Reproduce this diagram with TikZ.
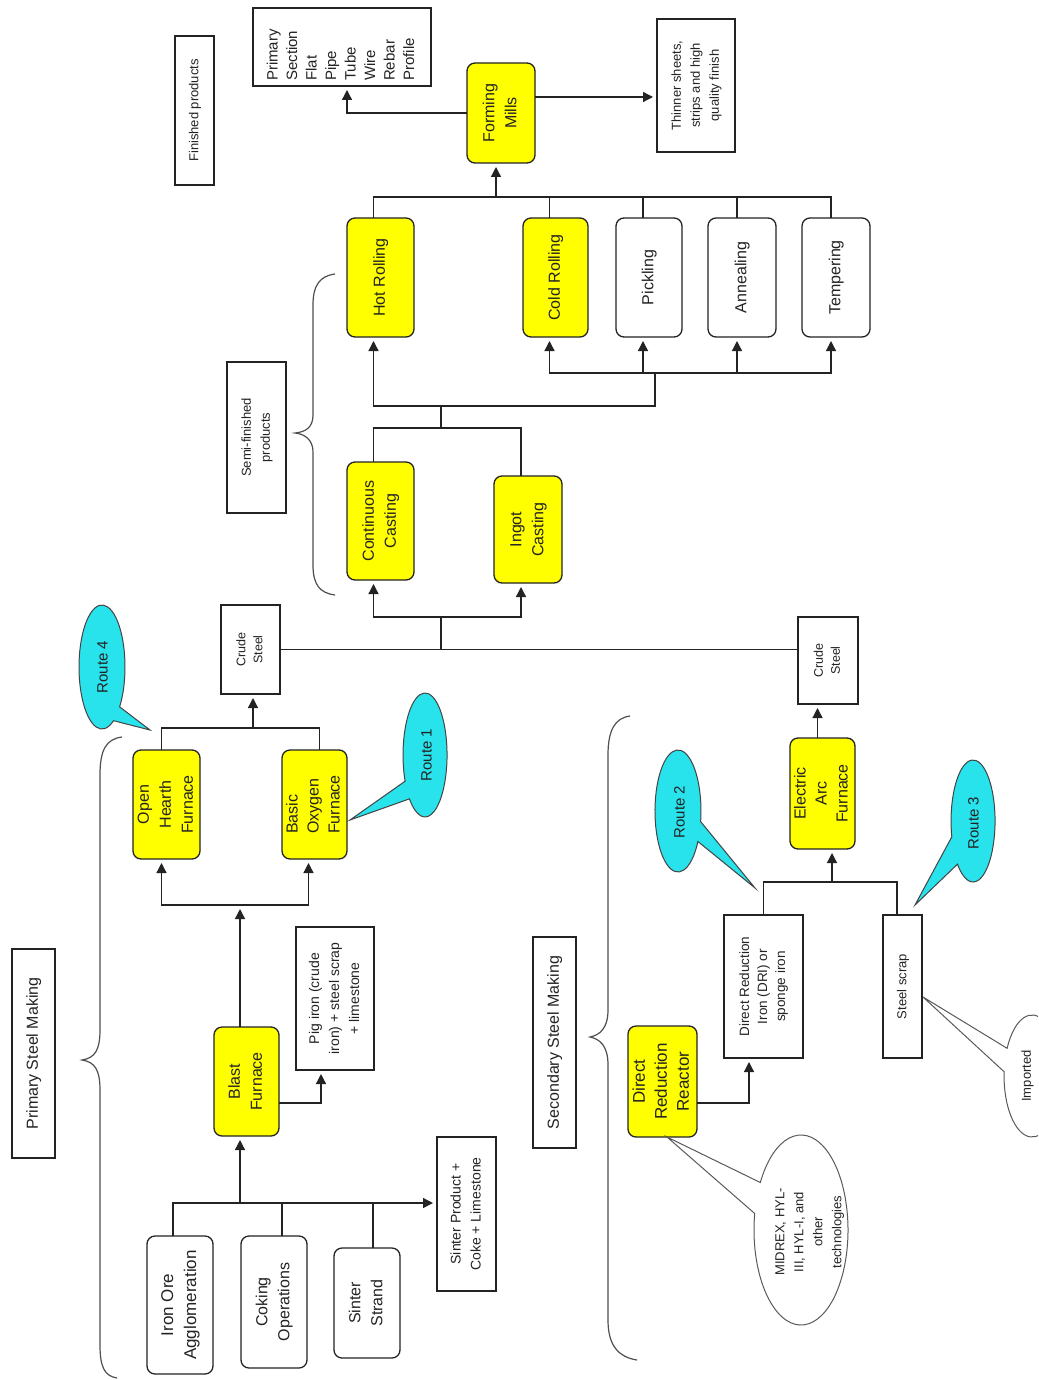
\documentclass[tikz,border=0pt]{standalone}
\usepackage{fontspec}
\setmainfont{Liberation Sans}
\usetikzlibrary{arrows.meta,calc}
% rotated (bottom-to-top) multi-line text
\newcommand{\rtx}[2][c]{\rotatebox{90}{\begin{tabular}{@{}#1@{}}#2\end{tabular}}}
\definecolor{boxyellow}{RGB}{255,255,0}
\definecolor{routecyan}{RGB}{40,226,236}
\definecolor{inkgray}{RGB}{35,35,35}

\begin{document}
\begin{tikzpicture}[x=1pt,y=-1pt,
  corners/.style n args={4}{at={({(#1+#3)/2},{(#2+#4)/2})},
    minimum width={(#3-#1)*1pt}, minimum height={(#4-#2)*1pt}},
  base/.style={draw=inkgray, line width=1.3pt, inner sep=0pt, outer sep=0pt,
    text=inkgray, font=\fontsize{16}{22}\selectfont},
  tbox/.style={base, fill=white},
  ybox/.style={base, fill=boxyellow, rounded corners=8pt},
  wbox/.style={base, fill=white, rounded corners=8pt},
  lbl/.style={inner sep=0pt, text=inkgray},
  ln/.style={draw=inkgray, line width=1.3pt},
  arr/.style={ln, -{Triangle[length=10pt,width=10pt]}, shorten >=4pt},
  callout/.style={fill=routecyan, draw=inkgray!85, line width=1pt},
  bubble/.style={fill=white, draw=inkgray!75, line width=1pt},
  bracestyle/.style={draw=inkgray!80, line width=1.2pt},
  fa/.style={font=\fontsize{13}{19}\selectfont},
  fb/.style={font=\fontsize{14}{20}\selectfont},
  fc/.style={font=\fontsize{12.5}{17}\selectfont},
  fr/.style={font=\fontsize{15}{18}\selectfont}
]
\fill[white] (0,0) rectangle (1038,1380);
\useasboundingbox (0,0) rectangle (1038,1380);
\clip (0,0) rectangle (1038,1380);

% ---------- braces ----------
\draw[bracestyle] (122,737) .. controls (106,739) and (100,750) .. (100,775)
  -- (100,1030) .. controls (100,1050) and (95,1058) .. (82,1060)
  .. controls (95,1062) and (100,1070) .. (100,1090)
  -- (100,1345) .. controls (100,1368) and (105,1376) .. (117,1378);
\draw[bracestyle] (335,274) .. controls (320,276) and (313,285) .. (313,305)
  -- (313,415) .. controls (313,428) and (305,432) .. (295,433)
  .. controls (305,434) and (313,440) .. (313,452)
  -- (313,565) .. controls (313,585) and (320,593) .. (335,595);
\draw[bracestyle] (630,716) .. controls (615,718) and (608,730) .. (608,755)
  -- (608,1010) .. controls (608,1028) and (600,1035) .. (590,1037)
  .. controls (600,1039) and (608,1046) .. (608,1065)
  -- (608,1320) .. controls (608,1345) and (618,1357) .. (637,1360);

% ---------- section labels ----------
\node[tbox, fa, corners={175}{36}{214}{185}] (finished) {\rtx{Finished products}};
\node[tbox, fa, corners={227}{362}{286}{513}] (semi) {\rtx{Semi-finished\\products}};
\node[tbox, corners={12}{949}{55}{1158}] (primary) {\rtx{Primary Steel Making}};
\node[tbox, corners={533}{937}{576}{1148}] (secondary) {\rtx{Secondary Steel Making}};

% ---------- finishing ----------
\node[tbox, corners={253}{8}{431}{86}, font=\fontsize{15}{19.5}\selectfont] (prod)
  {\rotatebox{90}{\begin{tabular}{@{}l@{\hspace{16pt}}}Primary\\Section\\Flat\\Pipe\\Tube\\Wire\\Rebar\\Profile\end{tabular}}};
\node[tbox, fa, corners={657}{19}{735}{152}] (thin) {\rtx{Thinner sheets,\\strips and high\\quality finish}};
\node[ybox, corners={467}{63}{535}{163}] (forming) {\rtx{Forming\\Mills}};

\node[ybox, corners={347}{218}{414}{337}] (hot) {\rtx{Hot Rolling}};
\node[ybox, corners={523}{218}{588}{337}] (cold) {\rtx{Cold Rolling}};
\node[wbox, corners={616}{218}{682}{337}] (pick) {\rtx{Pickling}};
\node[wbox, corners={708}{218}{776}{337}] (anneal) {\rtx{Annealing}};
\node[wbox, corners={802}{218}{870}{337}] (temper) {\rtx{Tempering}};

\node[ybox, corners={347}{462}{414}{580}] (cc) {\rtx{Continuous\\Casting}};
\node[ybox, corners={494}{476}{562}{583}] (ingot) {\rtx{Ingot\\Casting}};

\node[tbox, fc, corners={221}{605}{280}{694}] (crudeA) {\rtx{Crude\\Steel}};
\node[tbox, fc, corners={798}{617}{858}{704}] (crudeB) {\rtx{Crude\\Steel}};

% ---------- primary route ----------
\node[ybox, corners={133}{750}{200}{859}] (ohf) {\rtx{Open\\Hearth\\Furnace}};
\node[ybox, font=\fontsize{16}{21}\selectfont, corners={282}{750}{347}{859}] (bof) {\rtx[l]{Basic\\Oxygen\\Furnace}};
\node[ybox, corners={214}{1027}{279}{1136}] (blast) {\rtx{Blast\\Furnace}};
\node[tbox, fb, corners={296}{927}{374}{1070}] (pig) {\rtx{Pig iron (crude\\iron) + steel scrap\\+ limestone}};
\node[tbox, fb, corners={437}{1137}{496}{1291}] (sinterprod) {\rtx{Sinter Product +\\Coke + Limestone}};
\node[wbox, font=\fontsize{17}{23}\selectfont, corners={147}{1236}{213}{1374}] (ironore) {\rtx{Iron Ore\\Agglomeration}};
\node[wbox, corners={241}{1236}{307}{1368}] (coking) {\rtx{Coking\\Operations}};
\node[wbox, corners={334}{1248}{400}{1358}] (strand) {\rtx{Sinter\\Strand}};

% ---------- secondary route ----------
\node[ybox, font=\fontsize{16}{21}\selectfont, corners={790}{738}{855}{849}] (eaf) {\rtx{Electric\\Arc\\Furnace}};
\node[ybox, font=\fontsize{17}{22}\selectfont, corners={628}{1026}{697}{1137}] (drr) {\rtx{Direct\\Reduction\\Reactor}};
\node[tbox, font=\fontsize{13.5}{18}\selectfont, corners={724}{915}{803}{1058}] (dri) {\rtx{Direct Reduction\\Iron (DRI) or\\sponge iron}};
\node[tbox, fa, corners={883}{915}{922}{1058}] (scrap) {\rtx{Steel scrap}};

% ---------- connectors: finishing ----------
\draw[arr] (forming.west) -| ([xshift=5pt]prod.south);
\draw[arr] ([yshift=16pt]forming.east) -- ([yshift=16pt]forming.east -| thin.west);
\draw[ln] ([xshift=-7pt]hot.north) -- ++(0,-21) -| ([xshift=-5pt]temper.north);
\draw[ln] ([xshift=-6pt]cold.north) -- ++(0,-21);
\draw[ln] ([xshift=-6pt]pick.north) -- ++(0,-21);
\draw[ln] ([xshift=-5pt]anneal.north) -- ++(0,-21);
\coordinate (tb) at (496,197);
\draw[arr] (tb) -- (tb |- forming.south);

\coordinate (j1) at (441,406);
\coordinate (j2) at (655,406);
\coordinate (j3) at (655,373);
\coordinate (j4) at (441,428);
\draw[arr] (j1) -| ([xshift=-7pt]hot.south);
\draw[ln] (j1) -- (j2) -- (j3);
\draw[arr] (j3) -| ([xshift=-6pt]cold.south);
\draw[arr] (j3) -| ([xshift=-6pt]pick.south);
\draw[arr] (j3) -| ([xshift=-5pt]anneal.south);
\draw[arr] (j3) -| ([xshift=-5pt]temper.south);
\draw[ln] (j1) -- (j4);
\draw[ln] (j4) -| ([xshift=-7pt]cc.north);
\draw[ln] (j4) -| ([xshift=-7pt]ingot.north);

% ---------- connectors: crude steel ----------
\draw[ln] (crudeA.east) -- (crudeA.east -| crudeB.west);
\coordinate (j5) at (441,650);
\coordinate (j6) at (441,617);
\draw[ln] (j5) -- (j6);
\draw[arr] (j6) -| ([xshift=-7pt]cc.south);
\draw[arr] (j6) -| ([xshift=-7pt]ingot.south);

% ---------- connectors: primary ----------
\coordinate (j7) at (253,728);
\draw[ln] ([xshift=-5pt]ohf.north) |- (j7);
\draw[ln] ([xshift=5pt]bof.north) |- (j7);
\draw[arr] (j7) -- (j7 |- crudeA.south);
\coordinate (j8) at (240,905);
\draw[arr] (j8) -| ([xshift=-5pt]ohf.south);
\draw[arr] (j8) -| ([xshift=-6pt]bof.south);
\draw[arr] ([xshift=-6.5pt]blast.north) -- (j8);
\draw[arr] ([yshift=-21.5pt]blast.east) -| ([xshift=-14pt]pig.south);
\coordinate (j9) at (240,1203);
\draw[arr] (j9) -- ([xshift=-6.5pt]blast.south);
\draw[arr] ([xshift=-7pt]ironore.north) |- (sinterprod.west |- j9);
\draw[ln] ([xshift=8pt]coking.north) -- ++(0,-33);
\draw[ln] ([xshift=6pt]strand.north) -- ++(0,-45);

% ---------- connectors: secondary ----------
\draw[arr] ([yshift=-21.5pt]drr.east) -| ([xshift=-14.5pt]dri.south);
\coordinate (j10) at (832,882);
\draw[ln] (dri.north) |- (j10);
\draw[ln] ([xshift=-5.5pt]scrap.north) |- (j10);
\draw[arr] (j10) -- (j10 |- eaf.south);
\draw[arr] ([xshift=-5pt]eaf.north) -- ([xshift=-5pt]eaf.north |- crudeB.south);

% ---------- route callouts ----------
\draw[callout] (113.5,720.7) arc[start angle=60, end angle=400, x radius=23, y radius=62] -- (150,730) -- cycle;
\node[lbl, fr] (r4) at (104,667) {\rtx{Route 4}};
\draw[callout] (405.1,781.2) arc[start angle=155, end angle=495, x radius=22, y radius=62] -- (350,820) -- cycle;
\node[lbl, fr] (r1) at (428,755) {\rtx{Route 1}};
\draw[callout] (697.9,841.5) arc[start angle=30, end angle=370, x radius=23, y radius=61] -- (755,888) -- cycle;
\node[lbl, fr] (r2) at (681,812) {\rtx{Route 2}};
\draw[callout] (951.8,836.8) arc[start angle=165, end angle=495, x radius=22, y radius=61] -- (915,905) -- cycle;
\node[lbl, fr] (r3) at (975,823) {\rtx{Route 3}};

% ---------- note bubbles ----------
\draw[bubble] (760.3,1182.5) arc[start angle=210, end angle=550, x radius=47, y radius=95] -- (667,1137) -- cycle;
\node[lbl, fa] (midrex) at (809,1232) {\rtx{MIDREX, HYL-\\III, HYL-I, and\\other\\technologies}};
\draw[bubble] (1007.1,1048.3) arc[start angle=207, end angle=544, x radius=28, y radius=61] -- (923,997) -- cycle;
\node[lbl, fa] (imported) at (1027,1076) {\rtx{Imported}};
\end{tikzpicture}
\end{document}
